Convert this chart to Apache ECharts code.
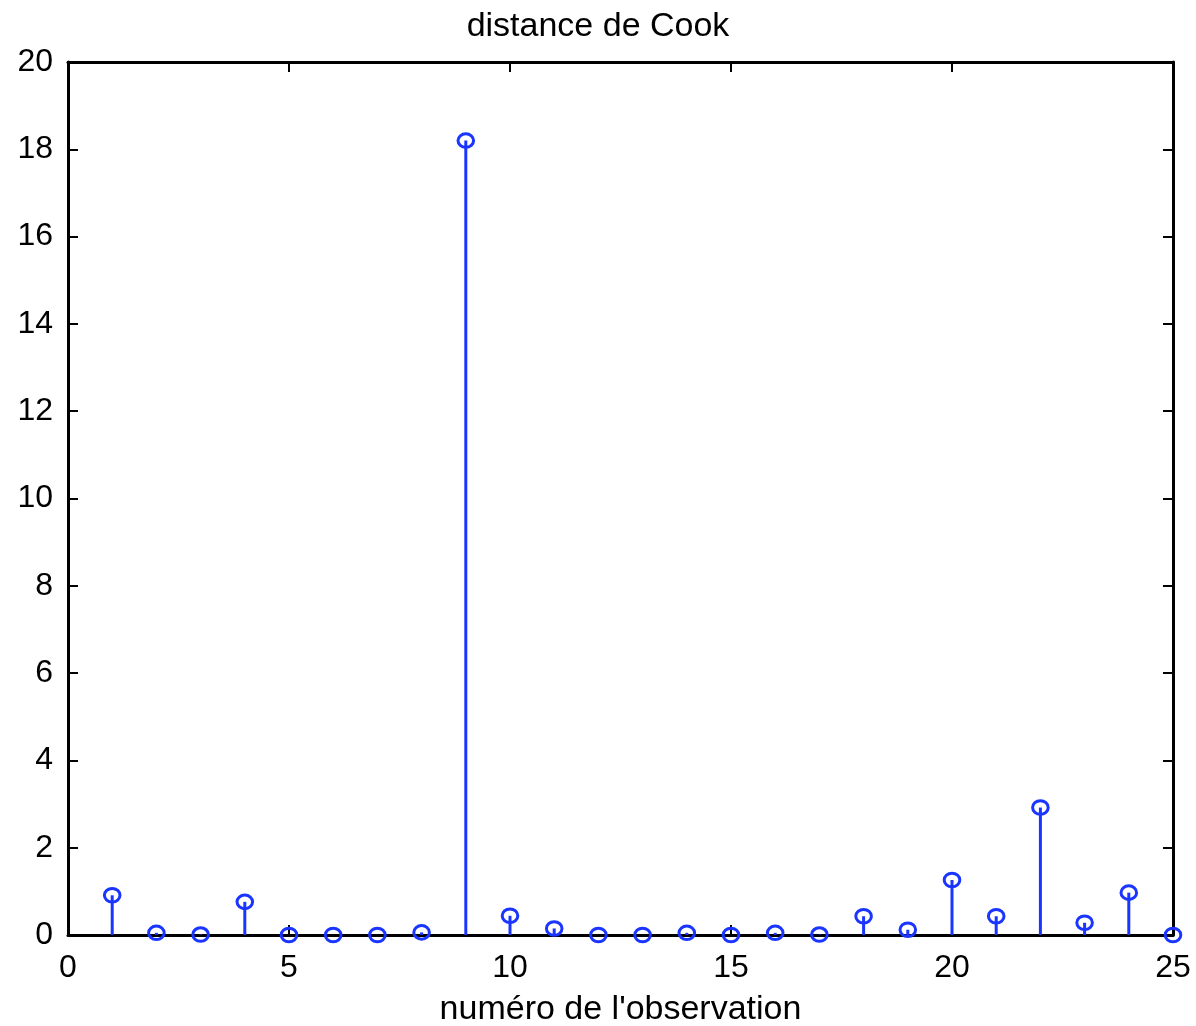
<!DOCTYPE html>
<html>
<head>
<meta charset="utf-8">
<script src="https://cdn.jsdelivr.net/npm/echarts@6/dist/echarts.min.js"></script>
<style>
  html, body { margin: 0; padding: 0; background: #fff; }
  #chart { width: 1196px; height: 1026px; }
</style>
</head>
<body>
<div id="chart"></div>
<script>
// Observation numbers and their Cook's distances
const observations = [1,2,3,4,5,6,7,8,9,10,11,12,13,14,15,16,17,18,19,20,21,22,23,24,25];
const cookDistance = [0.91,0.05,0.01,0.76,0.0,0.0,0.0,0.06,18.2,0.44,0.15,0.0,0.0,0.05,0.0,0.05,0.01,0.43,0.12,1.26,0.43,2.92,0.28,0.97,0.0];

const xTicks = [0,5,10,15,20,25];
const yTicks = [0,2,4,6,8,10,12,14,16,18,20];

const points = observations.map((n, i) => [n, cookDistance[i]]);

const FONT = 'Liberation Sans, Arial, Helvetica, sans-serif';
const BLUE = '#1a35ff';

const chart = echarts.init(document.getElementById('chart'), null, { renderer: 'canvas' });

const tickStyle = { show: true, inside: true, length: 10, lineStyle: { color: '#000', width: 2 } };
const lineStyle = { show: true, onZero: false, lineStyle: { color: '#000', width: 3 } };

chart.setOption({
  animation: false,
  backgroundColor: '#fff',
  title: {
    text: 'distance de Cook',
    left: 'center',
    top: 5,
    textStyle: { fontFamily: FONT, fontSize: 34, fontWeight: 'normal', color: '#000' }
  },
  grid: { left: 68, right: 23, top: 62, bottom: 91, containLabel: false, outerBoundsMode: 'none' },
  xAxis: [
    {
      type: 'value', position: 'bottom',
      min: xTicks[0], max: xTicks[xTicks.length - 1], interval: 5,
      axisLine: lineStyle, axisTick: tickStyle, splitLine: { show: false },
      axisLabel: { fontFamily: FONT, fontSize: 32, color: '#000', margin: 17 },
      name: "numéro de l'observation", nameLocation: 'middle', nameGap: 58,
      nameTextStyle: { fontFamily: FONT, fontSize: 34, color: '#000' }
    },
    {
      type: 'value', position: 'top',
      min: xTicks[0], max: xTicks[xTicks.length - 1], interval: 5,
      axisLine: lineStyle, axisTick: tickStyle, splitLine: { show: false },
      axisLabel: { show: false }
    }
  ],
  yAxis: [
    {
      type: 'value', position: 'left',
      min: yTicks[0], max: yTicks[yTicks.length - 1], interval: 2,
      axisLine: lineStyle, axisTick: tickStyle, splitLine: { show: false },
      axisLabel: { fontFamily: FONT, fontSize: 32, color: '#000', margin: 15 }
    },
    {
      type: 'value', position: 'right',
      min: yTicks[0], max: yTicks[yTicks.length - 1], interval: 2,
      axisLine: lineStyle, axisTick: tickStyle, splitLine: { show: false },
      axisLabel: { show: false }
    }
  ],
  series: [
    {
      // stems from zero up to each value
      type: 'custom',
      xAxisIndex: 0, yAxisIndex: 0,
      data: points,
      z: 2,
      clip: false,
      renderItem: function (params, api) {
        const base = api.coord([api.value(0), 0]);
        const top = api.coord([api.value(0), api.value(1)]);
        return {
          type: 'line',
          shape: { x1: base[0], y1: base[1], x2: top[0], y2: top[1] },
          style: { stroke: BLUE, lineWidth: 3 }
        };
      }
    },
    {
      // open circle markers at each value
      type: 'custom',
      xAxisIndex: 0, yAxisIndex: 0,
      data: points,
      z: 3,
      clip: false,
      renderItem: function (params, api) {
        const p = api.coord([api.value(0), api.value(1)]);
        return {
          type: 'ellipse',
          shape: { cx: p[0], cy: p[1], rx: 7.8, ry: 6.8 },
          style: { fill: null, stroke: BLUE, lineWidth: 3 }
        };
      }
    }
  ]
});
</script>
</body>
</html>
